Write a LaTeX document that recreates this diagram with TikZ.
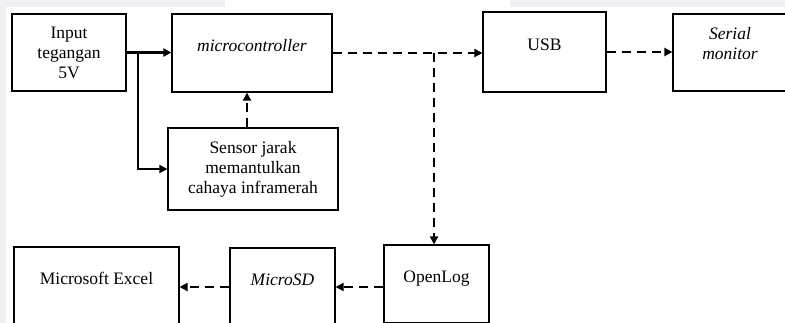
\documentclass[tikz,border=0pt]{standalone}
\usepackage{fontspec}
\setmainfont{Liberation Serif}
\usetikzlibrary{positioning}
\usetikzlibrary{arrows.meta}

\definecolor{latar}{RGB}{240,240,244}

\begin{document}
\begin{tikzpicture}[x=1pt, y=-1pt,
    blok/.style={rectangle, draw, line width=1.2pt, align=center, inner sep=2pt, font=\fontsize{17.5}{20}\selectfont},
    atas/.style={text height=12pt, text depth=15pt},
    solidarrow/.style={-{Triangle[length=8pt,width=8pt]}, line width=2.5pt},
    dashedarrow/.style={solidarrow, dash pattern=on 9pt off 6pt}
]
\useasboundingbox (0,0) rectangle (785,323);
% faint background bands
\fill[latar] (0,0) rectangle (225,7);
\fill[latar] (510,0) rectangle (785,7);
\fill[latar] (0,0) rectangle (6,323);

% Blocks (top row)
\node[blok, minimum width=114pt, minimum height=77pt] (inp) at (69,52.5) {Input\\tegangan\\5V};
\node[blok, atas, minimum width=160pt, minimum height=78pt] (mcu) at (252,53) {\textit{microcontroller}};
\node[blok, atas, minimum width=123pt, minimum height=80pt] (usb) at (544.5,52) {USB};
\node[blok, text height=30pt, text depth=15pt, minimum width=114pt, minimum height=77pt] (ser) at (730,52.5) {\textit{Serial}\\\textit{monitor}};
% Sensor
\node[blok, minimum width=170pt, minimum height=82pt] (sens) at (253,169) {Sensor jarak\\memantulkan\\cahaya inframerah};
% Blocks (bottom row)
\node[blok, atas, minimum width=105pt, minimum height=78pt] (olog) at (436.5,284) {OpenLog};
\node[blok, atas, minimum width=105pt, minimum height=78pt] (msd) at (282.5,287) {\textit{MicroSD}};
\node[blok, atas, minimum width=165pt, minimum height=78pt] (xls) at (96.5,286) {Microsoft Excel};

% Branch points
\coordinate (cabang1) at (138,52.5);
\coordinate (cabang2) at (434,53);

% Connections
\draw[solidarrow] (inp.east) -- (inp.east -| mcu.west);
\draw[solidarrow] (cabang1) |- (sens.west);
\draw[dashedarrow] ([xshift=-6pt]sens.north) -- ([xshift=-6pt]sens.north |- mcu.south);
\draw[dashedarrow] (mcu.east) -- (mcu.east -| usb.west);
\draw[dashedarrow] (cabang2) -- (cabang2 |- olog.north);
\draw[dashedarrow] (usb.east) -- (usb.east -| ser.west);
\draw[dashedarrow] (msd.east -| olog.west) -- (msd.east);
\draw[dashedarrow] (msd.west) -- (msd.west -| xls.east);

\end{tikzpicture}
\end{document}
